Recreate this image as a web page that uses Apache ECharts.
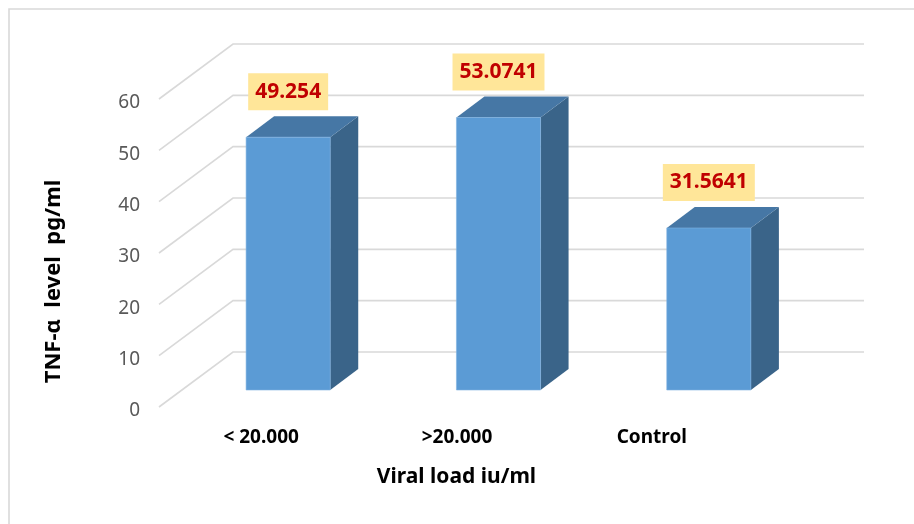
<!DOCTYPE html>
<html>
<head>
<meta charset="utf-8">
<script src="https://cdn.jsdelivr.net/npm/echarts@6/dist/echarts.min.js"></script>
<style>
  html, body { margin: 0; padding: 0; background: #ffffff; }
  #chart { width: 914px; height: 524px; }
</style>
</head>
<body>
<div id="chart"></div>
<script>
// Viral load groups and mean TNF-α levels
const categories = ['< 20.000', '>20.000', 'Control'];
const tnfValues = [49.254, 53.0741, 31.5641];
const yTicks = [0, 10, 20, 30, 40, 50, 60];

const FONT = '"Noto Sans", "Open Sans", sans-serif';

// Oblique depth of the chart walls relative to the bar front plane
const WALL_FRONT = [-24, 17];
const WALL_BACK = [50, -38];
// Depth of each 3D bar
const BAR_DEPTH = [28, -21];

function renderGrid(params, api) {
  const v = api.value(1);
  const p = api.coord([0, v]);
  const cs = params.coordSys;
  const x0 = cs.x, x1 = cs.x + cs.width, y = p[1];
  return {
    type: 'polyline',
    shape: {
      points: [
        [x0 + WALL_FRONT[0], y + WALL_FRONT[1]],
        [x0 + WALL_BACK[0], y + WALL_BACK[1]],
        [x1 + WALL_BACK[0], y + WALL_BACK[1]]
      ]
    },
    style: { stroke: '#D9D9D9', lineWidth: 1.6, fill: null },
    silent: true
  };
}

function renderBar(params, api) {
  const idx = api.value(0);
  const v = api.value(1);
  const top = api.coord([idx, v]);
  const base = api.coord([idx, 0]);
  const w = api.size([1, 0])[0] * 0.4;
  const L = top[0] - w / 2, R = top[0] + w / 2;
  const T = top[1], B = base[1];
  const dx = BAR_DEPTH[0], dy = BAR_DEPTH[1];
  return {
    type: 'group',
    children: [
      {
        type: 'polygon',
        shape: { points: [[R, T], [R + dx, T + dy], [R + dx, B + dy], [R, B]] },
        style: { fill: '#3A6489' }
      },
      {
        type: 'polygon',
        shape: { points: [[L, T], [R, T], [R + dx, T + dy], [L + dx, T + dy]] },
        style: { fill: '#4677A5' }
      },
      {
        type: 'rect',
        shape: { x: L, y: T, width: w, height: B - T },
        style: { fill: '#5B9BD5', stroke: '#7FB2E0', lineWidth: 0.6 }
      },
      {
        type: 'text',
        x: top[0],
        y: T - 27,
        style: {
          text: String(v),
          align: 'center',
          verticalAlign: 'bottom',
          fill: '#C00000',
          font: 'bold 21px ' + FONT,
          backgroundColor: '#FFE699',
          padding: [6, 7, 6, 7],
          lineHeight: 25
        }
      }
    ]
  };
}

const labelFont = { fontFamily: FONT, fontSize: 19, fontWeight: 'bold', color: '#000000' };

const chart = echarts.init(document.getElementById('chart'), null, { renderer: 'canvas' });
chart.setOption({
  backgroundColor: '#ffffff',
  animation: false,
  graphic: [
    {
      type: 'rect',
      shape: { x: 9, y: 9, width: 1000, height: 1000 },
      style: { fill: null, stroke: '#D9D9D9', lineWidth: 1.6 },
      silent: true
    }
  ],
  grid: { left: 183, right: 100, top: 82, bottom: 134 },
  xAxis: {
    type: 'category',
    data: categories,
    axisLine: { show: false },
    axisTick: { show: false },
    splitLine: { show: false },
    axisLabel: {
      margin: 38,
      formatter: (val, idx) => '{c' + idx + '|' + val + '}',
      rich: {
        c0: Object.assign({ padding: [0, 54, 0, 0] }, labelFont),
        c1: Object.assign({ padding: [0, 83, 0, 0] }, labelFont),
        c2: Object.assign({ padding: [0, 114, 0, 0] }, labelFont)
      }
    },
    name: 'Viral load iu/ml',
    nameLocation: 'middle',
    nameGap: 77,
    nameTextStyle: {
      fontFamily: FONT, fontSize: 21, fontWeight: 'bold', color: '#000000',
      padding: [0, 84, 0, 0]
    }
  },
  yAxis: {
    type: 'value',
    min: 0,
    max: 60,
    interval: 10,
    axisLine: { show: false },
    axisTick: { show: false },
    splitLine: { show: false },
    axisLabel: {
      margin: 43,
      fontFamily: FONT,
      fontSize: 19,
      color: '#595959',
      verticalAlign: 'top',
      lineHeight: 42
    },
    name: 'TNF-α  level  pg/ml',
    nameLocation: 'middle',
    nameRotate: 90,
    nameGap: 118,
    nameTextStyle: {
      fontFamily: FONT, fontSize: 22, fontWeight: 'bold', color: '#000000',
      padding: [0, 91, 0, 0]
    }
  },
  series: [
    {
      type: 'custom',
      name: 'grid',
      z: 1,
      clip: false,
      silent: true,
      renderItem: renderGrid,
      encode: { x: 0, y: 1 },
      data: yTicks.map(v => [0, v])
    },
    {
      type: 'custom',
      name: 'TNF-α',
      z: 2,
      clip: false,
      renderItem: renderBar,
      encode: { x: 0, y: 1 },
      data: tnfValues.map((v, i) => [i, v])
    }
  ]
});
</script>
</body>
</html>
